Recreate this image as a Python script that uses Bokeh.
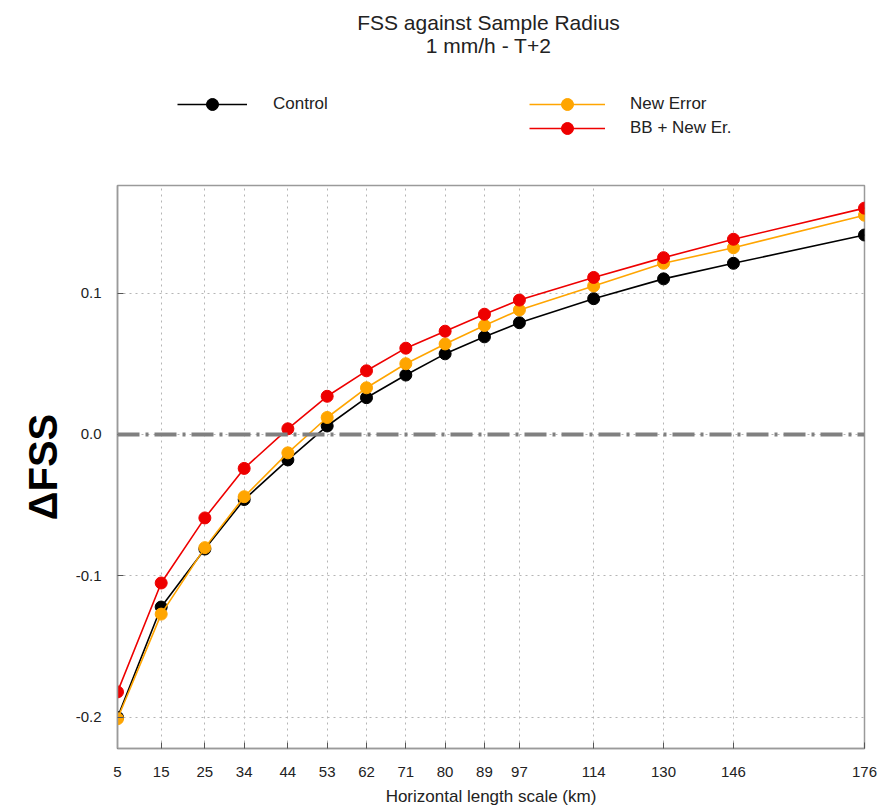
from bokeh.plotting import figure
from bokeh.layouts import column
from bokeh.models import (FixedTicker, NumeralTickFormatter, Span, Label, Legend,
                          LegendItem, Range1d, LinearAxis)
from bokeh.embed import file_html
from bokeh.resources import INLINE

# ---- data ----
scales_km = [5, 15, 25, 34, 44, 53, 62, 71, 80, 89, 97, 114, 130, 146, 176]
control = [-0.200, -0.122, -0.081, -0.046, -0.018, 0.006, 0.026, 0.042, 0.057,
           0.069, 0.079, 0.096, 0.110, 0.121, 0.141]
new_error = [-0.201, -0.127, -0.080, -0.044, -0.013, 0.012, 0.033, 0.050, 0.064,
             0.077, 0.088, 0.105, 0.121, 0.132, 0.155]
bb_new_er = [-0.182, -0.105, -0.059, -0.024, 0.004, 0.027, 0.045, 0.061, 0.073,
             0.085, 0.095, 0.111, 0.125, 0.138, 0.160]
y_ticks = [-0.2, -0.1, 0.0, 0.1]
series_names = ["Control", "New Error", "BB + New Er."]
series_colors = ["#000000", "#FFA500", "#EE0000"]
series_values = [control, new_error, bb_new_er]

title_1 = "FSS against Sample Radius"
title_2 = "1 mm/h - T+2"
x_label = "Horizontal length scale (km)"
y_label = "ΔFSS"

FONT = "Liberation Sans"
GRID = "#b5b5b5"
FRAME = "#9a9a9a"
HEAD_H = 180
LEFT = 117
RIGHT = 26

# ---------------- header (titles + legend) ----------------
# same series, drawn off-screen, only to feed the legend glyphs
h = figure(width=890, height=HEAD_H, output_backend="svg", toolbar_location=None,
           x_range=Range1d(1000, 1001), y_range=Range1d(0, 1),
           min_border_left=LEFT, min_border_right=RIGHT,
           min_border_top=0, min_border_bottom=0)
h.axis.visible = False
h.grid.visible = False
h.outline_line_color = None

items = {}
for name, vals, col in zip(series_names, series_values, series_colors):
    ln = h.line(scales_km, vals, line_color=col, line_width=1.6)
    sc = h.scatter(scales_km, vals, size=12, fill_color=col, line_color=col)
    items[name] = LegendItem(label=name, renderers=[ln, sc])

GH = 30
def make_legend(item, x, row_center, gw, standoff):
    lg = Legend(items=[item], location=(x, HEAD_H - row_center - GH // 2),
                orientation="vertical",
                glyph_width=gw, glyph_height=GH, label_height=GH, spacing=0,
                padding=0, margin=0, label_standoff=standoff,
                border_line_color=None, background_fill_alpha=0,
                label_text_font=FONT, label_text_font_size="17px",
                label_text_color="#222222")
    h.add_layout(lg)
    return lg

make_legend(items["Control"], 177 - LEFT, 104, 70, 26)
make_legend(items["New Error"], 529 - LEFT, 104, 76, 25)
make_legend(items["BB + New Er."], 529 - LEFT, 128, 76, 25)

for txt, yy in ((title_1, 22), (title_2, 45)):
    h.add_layout(Label(x=488 - LEFT, y=HEAD_H - yy, x_units="screen",
                       y_units="screen", text=txt, text_align="center",
                       text_baseline="middle", text_font=FONT,
                       text_font_size="21px", text_color="#222222"))

# ---------------- main plot ----------------
p = figure(width=890, height=809 - HEAD_H, output_backend="svg",
           toolbar_location=None,
           x_range=Range1d(5, 176), y_range=Range1d(-0.222, 0.176),
           min_border_left=LEFT, min_border_right=RIGHT, min_border_top=5,
           min_border_bottom=61)
p.xaxis.visible = False
p.yaxis.visible = False
p.outline_line_color = FRAME
p.outline_line_width = 1.5

xax = LinearAxis(ticker=FixedTicker(ticks=scales_km))
yax = LinearAxis(ticker=FixedTicker(ticks=y_ticks),
                 formatter=NumeralTickFormatter(format="0.0"))
p.add_layout(xax, "below")
p.add_layout(yax, "left")
for ax in (xax, yax):
    ax.axis_line_color = FRAME
    ax.axis_line_width = 1.5
    ax.major_tick_in = 6
    ax.major_tick_out = 0
    ax.major_tick_line_color = "#555555"
    ax.minor_tick_line_color = None
    ax.major_label_text_font = FONT
    ax.major_label_text_font_size = "15px"
    ax.major_label_text_color = "#222222"
    ax.axis_label_text_font = FONT
xax.major_label_standoff = 18
xax.axis_label = x_label
xax.axis_label_text_font_size = "17px"
xax.axis_label_text_font_style = "normal"
xax.axis_label_text_color = "#222222"
xax.axis_label_standoff = 7
yax.major_label_standoff = 16
yax.axis_label = y_label
yax.axis_label_text_font_size = "40px"
yax.axis_label_text_font_style = "bold"
yax.axis_label_text_color = "#000000"
yax.axis_label_standoff = 8

p.xgrid.ticker = FixedTicker(ticks=scales_km)
p.ygrid.ticker = FixedTicker(ticks=y_ticks)
p.grid.grid_line_color = GRID
p.grid.grid_line_dash = "2 4"
p.grid.grid_line_width = 1

zero = Span(location=0.0, dimension="width", line_color="#808080", line_width=4,
            line_dash="22 6 3 6")
p.add_layout(zero)

for name, vals, col in zip(series_names, series_values, series_colors):
    p.line(scales_km, vals, line_color=col, line_width=1.6)
    p.scatter(scales_km, vals, size=12, fill_color=col, line_color=col)

layout = column(h, p, spacing=0)
open("out.html", "w").write(file_html(layout, INLINE))
